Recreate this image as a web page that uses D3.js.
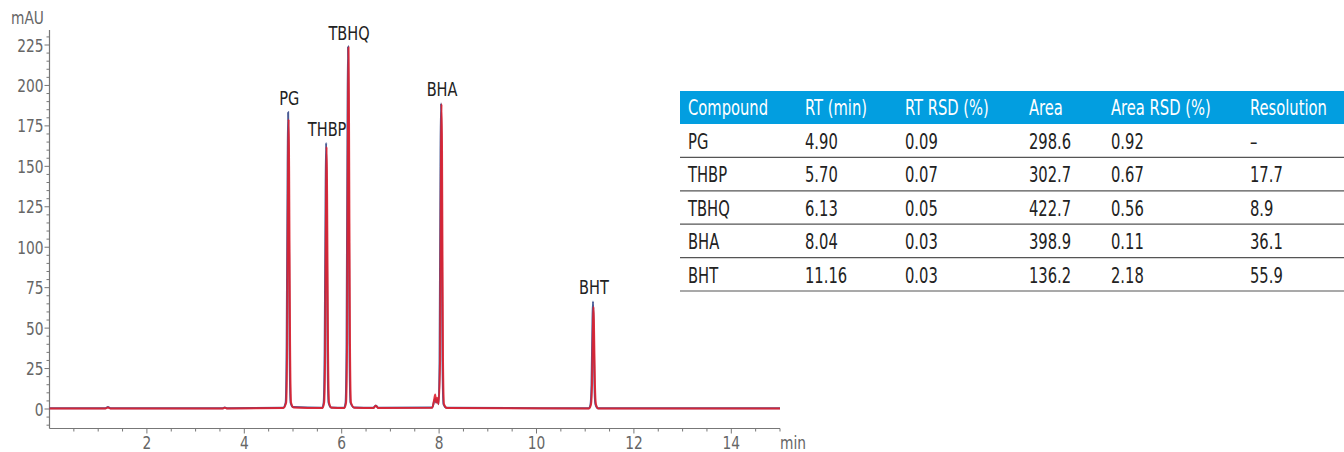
<!DOCTYPE html>
<html>
<head>
<meta charset="utf-8">
<script src="https://cdn.jsdelivr.net/npm/d3@7"></script>
<style>
  body { margin: 0; background: #fff; }
  svg text { font-family: "Liberation Sans Narrow", "DejaVu Sans Condensed", "Roboto", sans-serif; }
</style>
</head>
<body>
<div id="chart"></div>
<script>
// chromatogram traces (time in min, signal in mAU)
const blueTime = [0, 1.15, 1.2, 1.25, 3.55, 3.6, 3.65, 4.8, 4.85, 4.87, 4.89, 4.9, 4.91, 4.93, 4.95, 5.0, 5.6, 5.63, 5.65, 5.67, 5.68, 5.69, 5.71, 5.73, 5.78, 6.05, 6.08, 6.1, 6.12, 6.13, 6.14, 6.16, 6.18, 6.25, 6.65, 6.7, 6.75, 7.86, 7.9, 7.92, 7.94, 7.96, 7.99, 8.01, 8.03, 8.04, 8.05, 8.07, 8.09, 8.15, 11.08, 11.11, 11.13, 11.15, 11.16, 11.17, 11.19, 11.21, 11.26, 15];
const blueValue = [0.5, 0.5, 1.2, 0.5, 0.5, 1, 0.5, 0.8, 4, 40, 150, 183.5, 150, 40, 4, 1.2, 0.8, 4, 35, 135, 164.5, 135, 35, 4, 1, 0.8, 4, 40, 180, 224, 180, 40, 4, 1, 0.8, 2.2, 0.8, 1, 5, 6.5, 4, 6, 3, 30, 160, 189, 160, 30, 3, 0.8, 0.5, 3, 15, 55, 66.5, 55, 15, 3, 0.5, 0.5];
const redTime = [0, 1.15, 1.2, 1.25, 3.55, 3.6, 3.65, 4.8, 4.86, 4.88, 4.9, 4.91, 4.92, 4.94, 4.96, 5.01, 5.6, 5.64, 5.66, 5.68, 5.69, 5.7, 5.72, 5.74, 5.79, 6.05, 6.09, 6.11, 6.13, 6.14, 6.15, 6.17, 6.19, 6.26, 6.65, 6.7, 6.75, 7.86, 7.9, 7.92, 7.94, 7.96, 7.99, 8.02, 8.04, 8.05, 8.06, 8.08, 8.1, 8.16, 11.08, 11.12, 11.14, 11.16, 11.17, 11.18, 11.2, 11.22, 11.27, 15];
const redValue = [0.3, 0.3, 1, 0.3, 0.3, 0.8, 0.3, 0.6, 4, 40, 150, 179, 150, 40, 4, 1, 0.6, 4, 35, 133, 162, 133, 35, 4, 0.8, 0.6, 4, 40, 180, 223.5, 180, 40, 4, 0.8, 0.6, 2, 0.6, 0.8, 6, 9, 4, 7, 3, 30, 160, 188.5, 160, 30, 3, 0.6, 0.3, 3, 15, 52, 63, 52, 15, 3, 0.3, 0.3];

// peak labels
const peakNames = ["PG", "THBP", "TBHQ", "BHA", "BHT"];
const peakTimes = [4.9, 5.68, 6.13, 8.04, 11.16];
const peakHeights = [183.5, 164.5, 224, 189, 66.5];

// axis ticks
const xTicks = [2, 4, 6, 8, 10, 12, 14];
const yTicks = [0, 25, 50, 75, 100, 125, 150, 175, 200, 225];

// table
const headers = ["Compound", "RT (min)", "RT RSD (%)", "Area", "Area RSD (%)", "Resolution"];
const compounds = ["PG", "THBP", "TBHQ", "BHA", "BHT"];
const rtMin = ["4.90", "5.70", "6.13", "8.04", "11.16"];
const rtRsd = ["0.09", "0.07", "0.05", "0.03", "0.03"];
const areas = ["298.6", "302.7", "422.7", "398.9", "136.2"];
const areaRsd = ["0.92", "0.67", "0.56", "0.11", "2.18"];
const resolution = ["\u2013", "17.7", "8.9", "36.1", "55.9"];

const width = 1344, height = 452;
const svg = d3.select("#chart").append("svg")
  .attr("width", width).attr("height", height);

const x = d3.scaleLinear().domain([0, 15]).range([49.5, 780]);
const y = d3.scaleLinear().domain([0, 225]).range([409, 45]);
const axisColor = "#777";
const labelColor = "#666";

// narrow text: condensed face squeezed a bit more horizontally
function narrowText(sel, px, py, sx) {
  return sel.attr("transform", (d, i) => `translate(${px(d, i)},${py(d, i)}) scale(${sx},1)`);
}

// axes
const gx = svg.append("g").attr("transform", "translate(0,428.5)");
gx.append("line").attr("x1", x(0)).attr("x2", x(15)).attr("stroke", axisColor).attr("stroke-width", 1.2);
gx.selectAll(".minor").data(d3.range(0.5, 15.01, 0.5)).join("line")
  .attr("x1", d => x(d)).attr("x2", d => x(d)).attr("y1", 0).attr("y2", d => d % 2 === 0 ? 5 : 3)
  .attr("stroke", axisColor);
narrowText(gx.selectAll("text").data(xTicks).join("text"), d => x(d), () => 20, 0.85)
  .attr("text-anchor", "middle").attr("font-size", 18).attr("fill", labelColor).text(d => d);
narrowText(svg.append("text"), () => 780, () => 448.5, 0.85)
  .attr("font-size", 18).attr("fill", labelColor).text("min");

const gy = svg.append("g").attr("transform", "translate(49.5,0)");
gy.append("line").attr("y1", 30).attr("y2", 428.5).attr("stroke", axisColor).attr("stroke-width", 1.2);
gy.selectAll(".minor").data(d3.range(-10, 231, 5)).join("line")
  .attr("y1", d => y(d)).attr("y2", d => y(d)).attr("x1", 0).attr("x2", d => d % 25 === 0 ? -5 : -3)
  .attr("stroke", axisColor);
narrowText(gy.selectAll("text").data(yTicks).join("text"), () => -6, d => y(d) + 6.5, 0.85)
  .attr("text-anchor", "end").attr("font-size", 18).attr("fill", labelColor).text(d => d);
narrowText(svg.append("text"), () => 11, () => 23.5, 0.85)
  .attr("font-size", 18).attr("fill", labelColor).text("mAU");

// traces
const line = d3.line().x(d => x(d[0])).y(d => y(d[1])).curve(d3.curveMonotoneX);
svg.append("path").attr("d", line(d3.zip(blueTime, blueValue)))
  .attr("fill", "none").attr("stroke", "#4a5c96").attr("stroke-width", 2);
svg.append("path").attr("d", line(d3.zip(redTime, redValue)))
  .attr("fill", "none").attr("stroke", "#e0202e").attr("stroke-width", 2).attr("stroke-opacity", 0.9);

// peak labels
narrowText(svg.selectAll(".peak").data(peakNames).join("text"),
  (d, i) => x(peakTimes[i]) + 1, (d, i) => y(peakHeights[i]) - 7, 0.85)
  .attr("text-anchor", "middle").attr("font-size", 19).attr("fill", "#222").text(d => d);

// table
const colX = [688, 805, 905, 1029, 1111, 1250];
const tableLeft = 680, headTop = 91, headH = 33, rowH = 33.4;
svg.append("rect").attr("x", tableLeft).attr("y", headTop).attr("width", width - tableLeft).attr("height", headH)
  .attr("fill", "#029ee0");
narrowText(svg.selectAll(".head").data(headers).join("text"), (d, i) => colX[i], () => headTop + 24, 0.78)
  .attr("font-size", 21).attr("fill", "#fff").text(d => d);
const rows = compounds.map((c, i) => [c, rtMin[i], rtRsd[i], areas[i], areaRsd[i], resolution[i]]);
rows.forEach((r, i) => {
  const top = headTop + headH + i * rowH;
  narrowText(svg.selectAll(".row" + i).data(r).join("text"), (d, j) => colX[j], () => top + 25, 0.78)
    .attr("font-size", 21).attr("fill", "#222").text(d => d);
  svg.append("line").attr("x1", tableLeft).attr("x2", width).attr("y1", top + rowH).attr("y2", top + rowH)
    .attr("stroke", "#555").attr("stroke-width", 1.2);
});
</script>
</body>
</html>
